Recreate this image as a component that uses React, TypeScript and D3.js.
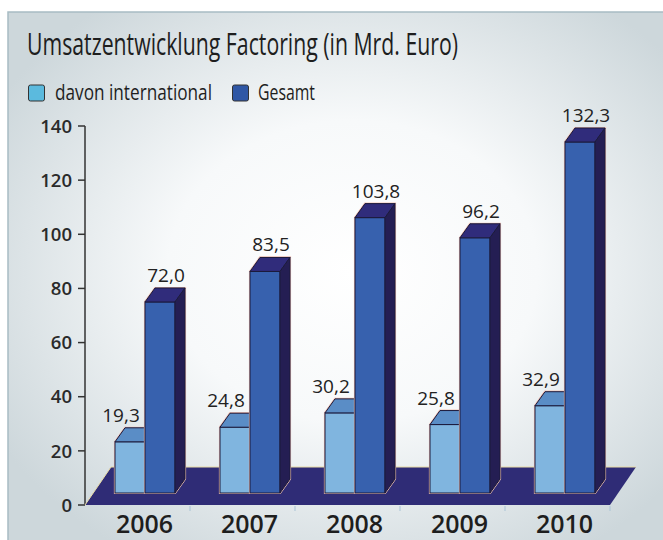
import React from "react";
import * as d3 from "d3";

const years = ["2006", "2007", "2008", "2009", "2010"];
const international = [19.3, 24.8, 30.2, 25.8, 32.9];
const gesamt = [72.0, 83.5, 103.8, 96.2, 132.3];
const yTicks = [0, 20, 40, 60, 80, 100, 120, 140];
const seriesNames = ["davon international", "Gesamt"];
const titleText = "Umsatzentwicklung Factoring (in Mrd. Euro)";

const W = 663;
const H = 540;
const FONT = "'Open Sans', 'Noto Sans', sans-serif";

const de = d3.formatLocale({ decimal: ",", thousands: ".", grouping: [3], currency: ["", " €"] });
const fmt = de.format(".1f");

export default function App() {
  const yAxis = d3.scaleLinear().domain([0, 140]).range([505, 126]);
  const yBar = d3.scaleLinear().domain([0, 140]).range([493, 493 - 140 * 2.653]);
  const x = d3.scaleBand<string>().domain(years).range([85, 610]).paddingInner(0).paddingOuter(0);

  const barW = 30;
  const dx = 10;
  const dy = -14;
  const base = yBar(0);

  const floor = [
    [85, 505],
    [610, 505],
    [636, 467],
    [111, 467],
  ];

  const cols = {
    intFront: "#80b5df",
    intTop: "#5a8dc6",
    intSide: "#3f6aa8",
    gesFront: "#3761ae",
    gesTop: "#302c7b",
    gesSide: "#241e53",
    floor: "#2f2c76",
    stroke: "#1b1a3c",
  };

  const bar = (x0: number, v: number, front: string, top: string, side: string, key: string) => {
    const yt = yBar(v);
    return (
      <g key={key}>
        <path
          d={`M${x0},${yt} L${x0 + dx},${yt + dy} L${x0 + barW + dx},${yt + dy} L${x0 + barW + dx},${base + dy} L${x0 + barW},${base} L${x0},${base} Z`}
          fill="none"
          stroke="#f2c4b6"
          strokeWidth={2.2}
        />
        <rect x={x0} y={yt} width={barW} height={base - yt} fill={front} stroke={cols.stroke} strokeWidth={1} />
        <path
          d={`M${x0},${yt} L${x0 + dx},${yt + dy} L${x0 + barW + dx},${yt + dy} L${x0 + barW},${yt} Z`}
          fill={top}
          stroke={cols.stroke}
          strokeWidth={1}
        />
        <path
          d={`M${x0 + barW},${yt} L${x0 + barW + dx},${yt + dy} L${x0 + barW + dx},${base + dy} L${x0 + barW},${base} Z`}
          fill={side}
          stroke={cols.stroke}
          strokeWidth={1}
        />
      </g>
    );
  };

  return (
    <svg width={W} height={H} style={{ position: "absolute", left: 0, top: 0 }}>
      <defs>
        <radialGradient id="bg" cx="52%" cy="48%" r="62%">
          <stop offset="0%" stopColor="#ffffff" />
          <stop offset="45%" stopColor="#f7f9fa" />
          <stop offset="100%" stopColor="#cdd7db" />
        </radialGradient>
      </defs>
      <rect x={0} y={0} width={W} height={H} fill="#ffffff" />
      <rect x={8} y={12} width={W} height={H} fill="url(#bg)" stroke="#a8bcc4" strokeWidth={1.5} />

      <text x={27} y={55} fontFamily={FONT} fontSize={31} fill="#1e1e1e" textLength={431} lengthAdjust="spacingAndGlyphs">
        {titleText}
      </text>

      {/* legend */}
      <rect x={28.5} y={85} width={16} height={16} rx={2} fill="#5bbade" stroke="#333" strokeWidth={1} />
      <text x={55} y={100} fontFamily={FONT} fontSize={21.5} fill="#1e1e1e" textLength={157} lengthAdjust="spacingAndGlyphs">
        {seriesNames[0]}
      </text>
      <rect x={232.5} y={85} width={16} height={16} rx={2} fill="#2f57a5" stroke="#333" strokeWidth={1} />
      <text x={258} y={100} fontFamily={FONT} fontSize={21.5} fill="#1e1e1e" textLength={57} lengthAdjust="spacingAndGlyphs">
        {seriesNames[1]}
      </text>

      {/* y axis */}
      <line x1={85} x2={85} y1={yAxis(140)} y2={yAxis(0)} stroke="#333" strokeWidth={1.5} />
      {yTicks.map((t) => (
        <g key={t}>
          <line x1={78} x2={85} y1={yAxis(t)} y2={yAxis(t)} stroke="#333" strokeWidth={1.5} />
          <text x={72} y={yAxis(t)} dy="0.36em" textAnchor="end" fontFamily={FONT} fontSize={18.5} fontWeight={600} fill="#2a2a2a">
            {t}
          </text>
        </g>
      ))}

      {/* floor */}
      <polygon points={floor.map((p) => p.join(",")).join(" ")} fill={cols.floor} />
      <polyline
        points={`${floor[0].join(",")} ${floor[3].join(",")} ${floor[2].join(",")}`}
        fill="none"
        stroke="#e9dca6"
        strokeWidth={1}
      />
      {years.map((yr) => (
        <line key={"xt" + yr} x1={(x(yr) as number) + x.bandwidth()} x2={(x(yr) as number) + x.bandwidth()} y1={506} y2={511} stroke="#a9c3d6" strokeWidth={1} />
      ))}

      {/* bars */}
      {years.map((yr, i) => {
        const x0 = (x(yr) as number) + 30;
        return (
          <g key={yr}>
            {bar(x0, international[i], cols.intFront, cols.intTop, cols.intSide, "i" + yr)}
            {bar(x0 + barW, gesamt[i], cols.gesFront, cols.gesTop, cols.gesSide, "g" + yr)}
          </g>
        );
      })}

      {/* value labels */}
      {years.map((yr, i) => {
        const x0 = (x(yr) as number) + 30;
        return (
          <g key={"l" + yr} fontFamily={FONT} fontSize={19} fontWeight={500} fill="#222" textAnchor="middle">
            <text x={x0 + barW / 2 - 9} y={yBar(international[i]) + dy - 6}>
              {fmt(international[i])}
            </text>
            <text x={x0 + barW * 1.5 + 6} y={yBar(gesamt[i]) + dy - 6}>
              {fmt(gesamt[i])}
            </text>
          </g>
        );
      })}

      {/* year labels */}
      {years.map((yr) => (
        <text
          key={"y" + yr}
          x={(x(yr) as number) + x.bandwidth() / 2 + 7}
          y={533}
          textAnchor="middle"
          fontFamily={FONT}
          fontSize={25}
          fontWeight={600}
          fill="#1e1e1e"
        >
          {yr}
        </text>
      ))}
    </svg>
  );
}
